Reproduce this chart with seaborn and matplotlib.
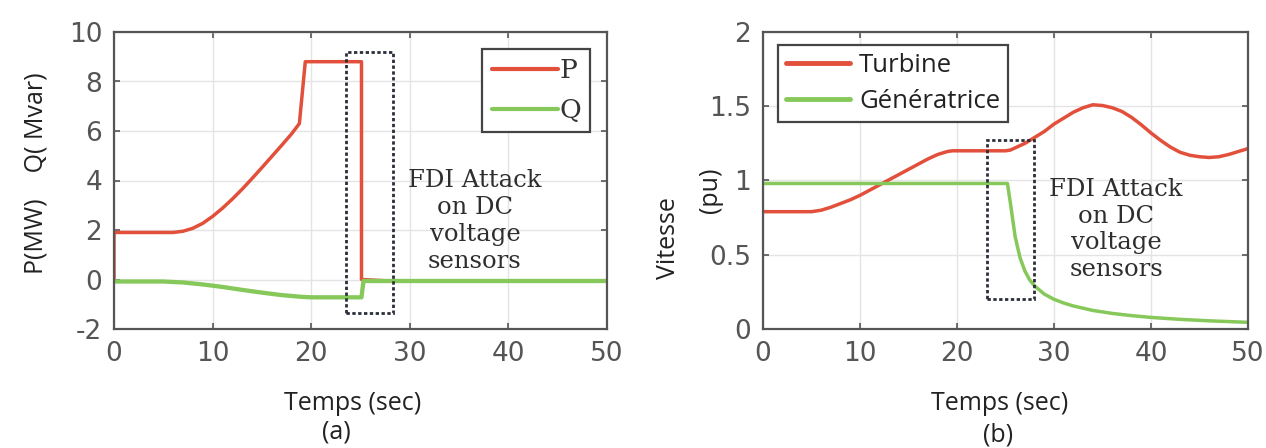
import numpy as np
import pandas as pd
import matplotlib
matplotlib.use("Agg")
import matplotlib.pyplot as plt
from matplotlib.patches import Rectangle
import seaborn as sns

# ---------------- data ----------------
p_time = [0, 0, 2, 4, 6, 7, 8, 9, 10, 11, 12, 13, 14, 15, 16, 17, 18, 18.8,
          19.4, 22, 25.1, 25.1, 28, 35, 50]
p_values = [0, 1.9, 1.9, 1.9, 1.9, 1.95, 2.07, 2.27, 2.55, 2.88, 3.25, 3.65,
            4.08, 4.52, 4.97, 5.42, 5.88, 6.3, 8.8, 8.8, 8.8, 0.0, -0.06,
            -0.06, -0.06]
q_time = [0, 3, 5, 7, 9, 11, 13, 15, 17, 19, 20, 25.1, 25.3, 30, 40, 50]
q_values = [-0.08, -0.08, -0.08, -0.12, -0.2, -0.3, -0.42, -0.53, -0.63,
            -0.7, -0.72, -0.72, -0.06, -0.06, -0.06, -0.06]

turb_time = [0, 3, 5, 6, 7, 8, 9, 10, 11, 12, 13, 14, 15, 16, 17, 18, 19,
             19.5, 20, 22, 25, 25.5, 26, 27, 28, 29, 30, 31, 32, 33, 34, 35,
             36, 37, 38, 39, 40, 41, 42, 43, 44, 45, 46, 47, 48, 49, 50]
turb_values = [0.79, 0.79, 0.79, 0.8, 0.82, 0.845, 0.87, 0.9, 0.935, 0.97,
               1.005, 1.04, 1.075, 1.11, 1.145, 1.175, 1.195, 1.2, 1.2, 1.2,
               1.2, 1.205, 1.22, 1.25, 1.29, 1.33, 1.38, 1.42, 1.46, 1.49,
               1.51, 1.505, 1.49, 1.465, 1.425, 1.375, 1.32, 1.27, 1.225,
               1.19, 1.17, 1.16, 1.155, 1.16, 1.175, 1.195, 1.215]
gen_time = [0, 10, 20, 25.2, 25.5, 26, 26.5, 27, 27.5, 28, 29, 30, 31, 32,
            34, 36, 38, 40, 43, 46, 50]
gen_values = [0.98, 0.98, 0.98, 0.98, 0.85, 0.62, 0.48, 0.39, 0.33, 0.29,
              0.235, 0.2, 0.175, 0.155, 0.125, 0.105, 0.09, 0.078, 0.065,
              0.055, 0.045]

x_ticks = [0, 10, 20, 30, 40, 50]
left_y_ticks = [-2, 0, 2, 4, 6, 8, 10]
right_y_ticks = [0, 0.5, 1, 1.5, 2]
right_y_ticklabels = ["0", "0.5", "1", "1.5", "2"]

# ---------------- style ----------------
sns.set_theme(style="whitegrid")
plt.rcParams["font.family"] = ["DejaVu Sans"]

RED = "#e2503c"
GREEN = "#86c95a"
SPINE = "#555555"
TICKC = "#555555"
LW = 2.5

fig = plt.figure(figsize=(12.66, 4.48), dpi=100)
fig.patch.set_facecolor("white")
W, H = 1266.0, 448.0
ax1 = fig.add_axes([114 / W, (H - 329) / H, (607 - 114) / W, (329 - 32) / H])
ax2 = fig.add_axes([763 / W, (H - 329) / H, (1248 - 763) / W, (329 - 32) / H])

df_p = pd.DataFrame({"t": p_time, "v": p_values})
df_q = pd.DataFrame({"t": q_time, "v": q_values})
df_t = pd.DataFrame({"t": turb_time, "v": turb_values})
df_g = pd.DataFrame({"t": gen_time, "v": gen_values})

sns.lineplot(data=df_p, x="t", y="v", ax=ax1, color=RED, lw=LW,
             estimator=None, sort=False, label="P")
sns.lineplot(data=df_q, x="t", y="v", ax=ax1, color=GREEN, lw=LW + 0.6,
             estimator=None, sort=False, label="Q")
sns.lineplot(data=df_t, x="t", y="v", ax=ax2, color=RED, lw=LW,
             estimator=None, sort=False, label="Turbine")
sns.lineplot(data=df_g, x="t", y="v", ax=ax2, color=GREEN, lw=LW,
             estimator=None, sort=False, label="Génératrice")


def style_axes(ax):
    ax.set_facecolor("white")
    ax.grid(True, color="#e4e4e4", lw=1.0)
    for s in ax.spines.values():
        s.set_visible(True)
        s.set_color(SPINE)
        s.set_linewidth(1.6)
    ax.tick_params(direction="in", length=4, width=1.2, color=SPINE,
                   top=True, right=True, bottom=True, left=True,
                   labelsize=19, labelcolor=TICKC, pad=8.5)
    ax.set_xlim(0, 50)
    ax.set_xticks(x_ticks)
    ax.set_xticklabels([str(v) for v in x_ticks])


style_axes(ax1)
style_axes(ax2)

ax1.set_ylim(-2, 10)
ax1.set_yticks(left_y_ticks)
ax1.set_yticklabels([str(v) for v in left_y_ticks])
ax2.set_ylim(0, 2)
ax2.set_yticks(right_y_ticks)
ax2.set_yticklabels(right_y_ticklabels)

# dotted "attack" boxes
ax1.add_patch(Rectangle((23.5, -1.35), 4.8, 10.55, fill=False,
                        edgecolor="#2b2f3a", lw=2.0, ls=(0, (1.2, 0.9)),
                        zorder=5))
ax2.add_patch(Rectangle((23.1, 0.2), 4.8, 1.07, fill=False,
                        edgecolor="#2b2f3a", lw=2.0, ls=(0, (1.2, 0.9)),
                        zorder=5))

fdi = "FDI Attack\non DC\nvoltage\nsensors"
for ax, xc, yc in [(ax1, 36.6, 2.35), (ax2, 36.4, 0.67)]:
    ax.text(xc, yc, fdi, ha="center", va="center", multialignment="center",
            family="DejaVu Serif", fontsize=17.5, color="#2e2e2e",
            linespacing=1.22, zorder=6)

# legends
leg1 = ax1.legend(loc="upper right", bbox_to_anchor=(0.9655, 0.9428),
                  borderaxespad=0, frameon=True, fancybox=False,
                  framealpha=1, edgecolor="#444444", handlelength=2.5,
                  handletextpad=0.05, labelspacing=0.55, borderpad=0.35,
                  prop={"family": "DejaVu Serif", "size": 19})
leg1.get_frame().set_linewidth(1.6)
for t in leg1.get_texts():
    t.set_color("#333333")
for h in leg1.legend_handles:
    h.set_linewidth(3.0)

leg2 = ax2.legend(loc="upper left", bbox_to_anchor=(0.031, 0.956),
                  borderaxespad=0, frameon=True, fancybox=False,
                  framealpha=1, edgecolor="#444444", handlelength=2.5,
                  handletextpad=0.35, labelspacing=0.45, borderpad=0.3,
                  prop={"family": "Open Sans", "size": 18.5})
leg2.get_frame().set_linewidth(1.6)
for t in leg2.get_texts():
    t.set_color("#222222")
for h in leg2.legend_handles:
    h.set_linewidth(3.5)

# axis labels
lab_kw = dict(family="Open Sans", fontsize=18, color="#222222")
ax1.set_xlabel("Temps (sec)", **lab_kw)
ax2.set_xlabel("Temps (sec)", **lab_kw)
ax1.xaxis.set_label_coords(0.485, -0.25)
ax2.xaxis.set_label_coords(0.487, -0.25)
for ax in (ax1, ax2):
    ax.xaxis.label.set_va("center")

ax1.set_ylabel("P(MW)    Q( Mvar)", **lab_kw)
ax1.yaxis.set_label_coords(-0.158, 0.525)
ax1.yaxis.label.set_va("center")
ax2.set_ylabel("Vitesse", **lab_kw)
ax2.yaxis.set_label_coords(-0.194, 0.306)
ax2.yaxis.label.set_va("center")
ax2.text(-0.109, 0.468, "(pu)", transform=ax2.transAxes, rotation=90,
         ha="center", va="center", **lab_kw)

fig.text(336 / W, 1 - 432 / H, "(a)", ha="center", va="center", **lab_kw)
fig.text(998 / W, 1 - 435 / H, "(b)", ha="center", va="center", **lab_kw)

fig.savefig("out.png", dpi=100, facecolor="white")
